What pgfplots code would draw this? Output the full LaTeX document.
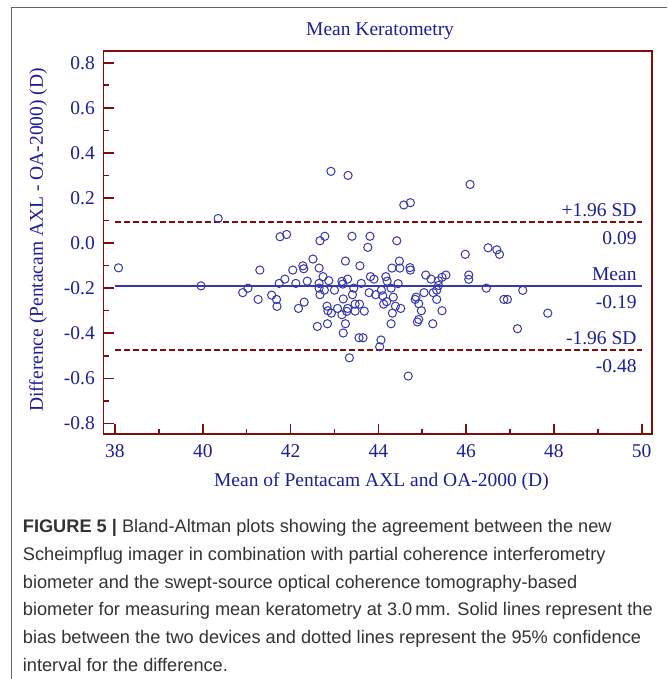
\documentclass[border=0pt]{standalone}
\usepackage{fontspec}
\setmainfont{Liberation Serif}
\newfontfamily\capfont{Liberation Sans}
\usepackage{pgfplots}
\pgfplotsset{compat=1.18}

\definecolor{txtblue}{RGB}{30,30,150}
\definecolor{ptblue}{RGB}{55,55,175}
\definecolor{axred}{RGB}{128,12,12}
\definecolor{capgray}{RGB}{51,51,51}
\definecolor{framegray}{RGB}{100,100,100}

\newcommand\chartfont{\fontsize{19.5}{23}\selectfont}
\newcommand\capsize{\fontsize{18.2}{27.5}\selectfont}

% mean / difference
\pgfplotstableread{
x y
38.08 -0.110
39.96 -0.190
40.35 0.109
42.92 0.318
43.31 0.300
46.09 0.260
44.58 0.169
44.73 0.179
41.76 0.028
41.91 0.038
42.67 0.010
42.78 0.030
43.40 0.030
43.81 0.030
43.76 -0.019
44.42 0.010
45.98 -0.050
46.50 -0.021
46.70 -0.030
46.76 -0.050
42.51 -0.071
43.25 -0.080
43.58 -0.101
44.48 -0.080
44.49 -0.111
44.72 -0.109
44.73 -0.120
41.30 -0.120
42.05 -0.120
42.28 -0.101
42.30 -0.114
42.65 -0.111
44.31 -0.111
45.08 -0.142
45.20 -0.160
45.37 -0.167
45.45 -0.152
45.54 -0.142
46.06 -0.142
46.06 -0.161
41.87 -0.160
41.74 -0.179
42.12 -0.179
42.38 -0.169
42.74 -0.149
42.87 -0.167
42.65 -0.179
43.17 -0.170
43.30 -0.160
43.19 -0.182
43.82 -0.149
43.90 -0.160
44.17 -0.149
44.20 -0.169
44.45 -0.180
43.61 -0.179
41.03 -0.200
40.91 -0.220
41.26 -0.250
41.57 -0.231
41.68 -0.250
41.69 -0.281
42.18 -0.290
42.31 -0.262
42.65 -0.200
42.67 -0.229
42.77 -0.209
43.00 -0.209
42.83 -0.280
42.85 -0.300
42.93 -0.311
43.07 -0.290
43.17 -0.318
43.20 -0.248
43.30 -0.290
43.28 -0.303
43.41 -0.229
43.44 -0.200
43.47 -0.271
43.57 -0.271
43.47 -0.302
43.68 -0.302
43.79 -0.220
43.94 -0.229
44.07 -0.209
44.10 -0.234
44.12 -0.271
44.19 -0.260
44.29 -0.200
44.34 -0.240
44.39 -0.280
44.32 -0.311
44.51 -0.290
44.86 -0.240
44.84 -0.250
44.92 -0.269
44.98 -0.300
45.04 -0.220
45.25 -0.220
45.33 -0.250
45.33 -0.209
45.37 -0.188
45.45 -0.300
46.46 -0.200
46.86 -0.250
46.94 -0.250
47.29 -0.210
47.86 -0.311
47.17 -0.380
42.61 -0.370
42.84 -0.358
43.25 -0.358
43.20 -0.399
43.56 -0.420
43.65 -0.420
44.06 -0.430
44.03 -0.460
44.29 -0.358
44.89 -0.350
44.92 -0.339
45.24 -0.358
43.34 -0.509
44.68 -0.590
}\points

\begin{document}
\begin{tikzpicture}
\path[use as bounding box] (0pt,0pt) rectangle (667pt,679pt);
\draw[framegray, line width=1pt] (11pt,0pt) -- (11pt,671pt) -- (667pt,671pt);

\begin{axis}[
  at={(103.5pt,245pt)}, anchor=south west,
  scale only axis, width=548.2pt, height=383pt,
  xmin=37.738, xmax=50.228, ymin=-0.847, ymax=0.852,
  axis line style={axred, line width=1.8pt},
  tick style={axred, line width=1.6pt},
  major tick length=10pt, minor tick length=5pt,
  tick align=inside, tick pos=left,
  xtick={38,40,42,44,46,48,50},
  ytick={-0.8,-0.6,-0.4,-0.2,0,0.2,0.4,0.6,0.8},
  minor x tick num=1, minor y tick num=1,
  /pgf/number format/assume math mode=true,
  ticklabel style={font=\chartfont, text=txtblue, inner sep=0pt},
  yticklabel style={xshift=-8.5pt, /pgf/number format/.cd, fixed, fixed zerofill, precision=1},
  xticklabel style={yshift=-10pt},
  title={Mean Keratometry},
  title style={font=\chartfont, text=txtblue, inner sep=0pt,
    at={(axis description cs:0.5045,1.0248)}, anchor=base},
  xlabel={Mean of Pentacam AXL and OA-2000 (D)},
  xlabel style={font=\chartfont, text=txtblue, inner sep=0pt,
    at={(axis description cs:0.507,-0.137)}, anchor=base},
  ylabel={Difference (Pentacam AXL - OA-2000) (D)},
  ylabel style={font=\chartfont, text=txtblue, inner sep=0pt,
    at={(axis description cs:-0.1104,0.5065)}, anchor=base, rotate=0},
  clip=false,
]
  \addplot[ptblue, line width=2pt] coordinates {(38,-0.192) (50,-0.192)};
  \addplot[axred, line width=2pt, dash pattern=on 6pt off 3pt] coordinates {(38,0.092) (50,0.092)};
  \addplot[axred, line width=2pt, dash pattern=on 6pt off 3pt] coordinates {(38,-0.476) (50,-0.476)};
  \addplot[only marks, mark=o, mark size=4.1pt, ptblue, mark options={line width=1pt}] table[x=x, y=y] {\points};

  \begin{scope}[every node/.style={anchor=base east, font=\chartfont, text=txtblue, inner sep=0pt}]
    \node[yshift=5.8pt] at (axis cs:49.887,0.092) {+1.96 SD};
    \node[yshift=-21.8pt] at (axis cs:49.887,0.092) {0.09};
    \node[yshift=5.8pt] at (axis cs:49.887,-0.192) {Mean};
    \node[yshift=-21.8pt] at (axis cs:49.887,-0.192) {-0.19};
    \node[yshift=5.8pt] at (axis cs:49.887,-0.476) {-1.96 SD};
    \node[yshift=-21.8pt] at (axis cs:49.887,-0.476) {-0.48};
  \end{scope}
\end{axis}

\begin{scope}[every node/.style={anchor=base west, inner sep=0pt, text=capgray, font=\capfont\capsize}]
  \node at (22.7pt,146pt) {\textbf{FIGURE 5 |} Bland-Altman plots showing the agreement between the new};
  \node at (22.7pt,118.4pt) {Scheimpflug imager in combination with partial coherence interferometry};
  \node at (22.7pt,90.8pt) {biometer and the swept-source optical coherence tomography-based};
  \node at (22.7pt,63.2pt) {biometer for measuring mean keratometry at 3.0\,mm. Solid lines represent the};
  \node at (22.7pt,35.6pt) {bias between the two devices and dotted lines represent the 95\% confidence};
  \node at (22.7pt,8pt) {interval for the difference.};
\end{scope}
\end{tikzpicture}
\end{document}
